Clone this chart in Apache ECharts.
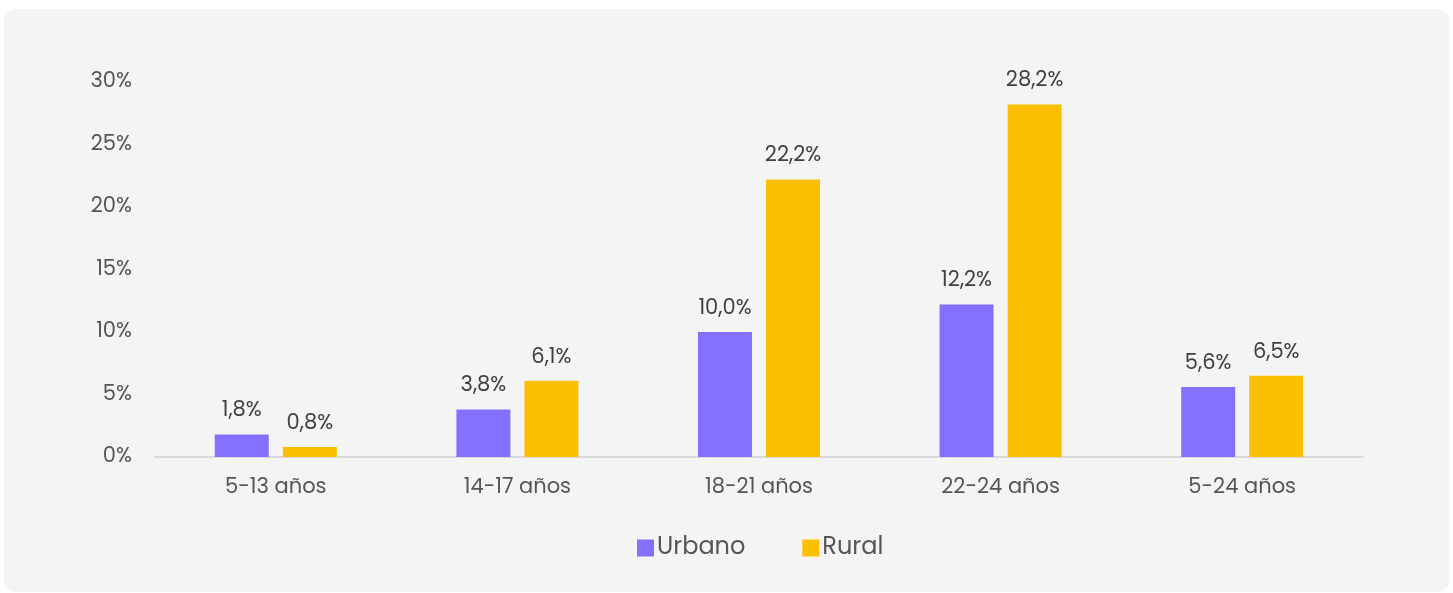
<!DOCTYPE html>
<html>
<head>
<meta charset="utf-8">
<script src="https://cdn.jsdelivr.net/npm/echarts@6/dist/echarts.min.js"></script>
<style>
html,body{margin:0;padding:0;background:#ffffff;}
#chart{width:1453px;height:593px;}
</style>
</head>
<body>
<div id="chart"></div>
<script>
const categories = ['5-13 años', '14-17 años', '18-21 años', '22-24 años', '5-24 años'];
const urbano = [1.8, 3.8, 10.0, 12.2, 5.6];
const rural = [0.8, 6.1, 22.2, 28.2, 6.5];
const yTicks = [0, 5, 10, 15, 20, 25, 30];

const font = 'Poppins, "Noto Sans", sans-serif';
const chart = echarts.init(document.getElementById('chart'));
const labelCfg = {
  show: true,
  position: 'top',
  distance: 13,
  fontFamily: font,
  fontSize: 21,
  color: '#404040',
  formatter: p => p.value.toFixed(1).replace('.', ',') + '%'
};
chart.setOption({
  animation: false,
  backgroundColor: '#ffffff',
  graphic: [{
    type: 'rect',
    z: -10,
    shape: {x: 4, y: 9, width: 1445, height: 583, r: 12},
    style: {fill: '#f4f4f4'}
  }],
  grid: {left: 155, right: 90, top: 82, bottom: 136, containLabel: false},
  legend: {
    data: ['Urbano', 'Rural'],
    bottom: 28,
    left: 632,
    itemWidth: 17,
    itemHeight: 17,
    itemGap: 57,
    icon: 'rect',
    textStyle: {fontFamily: font, fontSize: 24, color: '#555555', padding: [0, 0, 0, -2]}
  },
  xAxis: {
    type: 'category',
    data: categories,
    axisLine: {lineStyle: {color: '#d9d9d9', width: 2}},
    axisTick: {show: false},
    axisLabel: {fontFamily: font, fontSize: 21, color: '#555555', margin: 20}
  },
  yAxis: {
    type: 'value',
    min: yTicks[0],
    max: yTicks[yTicks.length - 1],
    interval: 5,
    splitLine: {show: false},
    axisLine: {show: false},
    axisTick: {show: false},
    axisLabel: {fontFamily: font, fontSize: 21, color: '#555555', margin: 23, formatter: v => v + '%'}
  },
  series: [
    {name: 'Urbano', type: 'bar', data: urbano, barWidth: 54, barGap: '26%', itemStyle: {color: '#8470fe'}, label: labelCfg},
    {name: 'Rural', type: 'bar', data: rural, barWidth: 54, itemStyle: {color: '#fcbf04'}, label: labelCfg}
  ]
});
</script>
</body>
</html>
